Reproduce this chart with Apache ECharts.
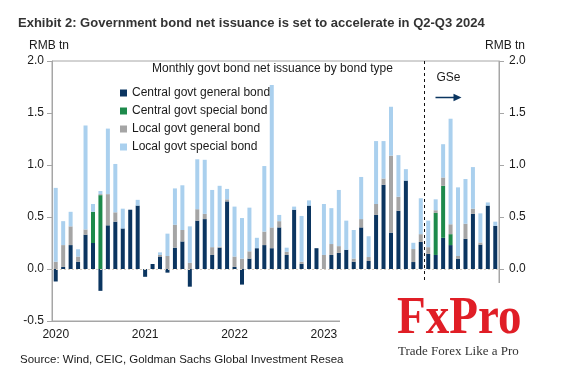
<!DOCTYPE html>
<html><head><meta charset="utf-8">
<script src="https://cdn.jsdelivr.net/npm/echarts/dist/echarts.min.js"></script>
<style>html,body{margin:0;padding:0;background:#fff}#c{width:571px;height:377px}</style>
</head><body><div id="c"></div>
<script>
const categories = ['Jan-20','Feb-20','Mar-20','Apr-20','May-20','Jun-20','Jul-20','Aug-20','Sep-20','Oct-20','Nov-20','Dec-20',
'Jan-21','Feb-21','Mar-21','Apr-21','May-21','Jun-21','Jul-21','Aug-21','Sep-21','Oct-21','Nov-21','Dec-21',
'Jan-22','Feb-22','Mar-22','Apr-22','May-22','Jun-22','Jul-22','Aug-22','Sep-22','Oct-22','Nov-22','Dec-22',
'Jan-23','Feb-23','Mar-23','Apr-23','May-23','Jun-23','Jul-23','Aug-23','Sep-23','Oct-23','Nov-23','Dec-23',
'Jan-24','Feb-24','Mar-24','Apr-24','May-24','Jun-24','Jul-24','Aug-24','Sep-24','Oct-24','Nov-24','Dec-24'];
const yearLabels = ['2020','2021','2022','2023','2024'];
const seriesNames = ['Central govt general bond','Central govt special bond','Local govt general bond','Local govt special bond'];
const centralGeneral = [-0.12,0.02,0.23,0.07,0.33,0.25,-0.21,0.42,0.455,0.39,0.57,0.61,
-0.075,0.048,0.12,-0.035,0.205,0.265,-0.17,0.465,0.48,0.135,0.205,0.65,
0.02,-0.15,0.10,0.20,0.23,0.20,0.40,0.135,0.57,0.05,0.61,0.20,
0,0.135,0.155,0.185,0.07,0.40,0.077,0.52,0.81,0.35,0.56,0.85,
0.067,0.26,0.145,0.135,0.30,0.23,0.10,0.29,0.53,0.235,0.61,0.415];
const centralSpecial = [0,0,0,0,0,0.30,0.71,0,0,0,0,0,
0,0,0,0,0,0,0,0,0,0,0,0,
0,0,0,0,0,0,0,0,0,0,0,0,
0,0,0,0,0,0,0,0,0,0,0,0,
0,0,0,0.405,0.50,0.105,0,0,0,0,0,0];
const localGeneral = [0.07,0.21,0.18,0.05,0.05,0,0.01,0.30,0.09,0,0,0,
0,0,0.015,0.125,0.22,0.11,0.06,0.11,0.05,0.075,0.01,0.02,
0.10,0.10,0.07,0,0.13,0.20,0.06,0.03,0,0.02,0,0,
0.135,0.105,0.065,0,0.03,0.08,0.038,0.105,0.06,0.74,0.135,0,
0.125,0.075,0.065,0.025,0.08,0.095,0.025,0.145,0.05,0.02,0,0];
const localSpecial = [0.71,0.23,0.14,0.07,1.00,0.075,0.03,0.63,0.465,0.19,0,0.055,
0,0,0.025,0.215,0.35,0.43,0.35,0.48,0.52,0.55,0.585,0.10,
0.48,0.39,0.42,0.10,0.63,1.37,0.06,0.04,0.03,0.44,0.05,0,
0.49,0.345,0.54,0.28,0.275,0.405,0.20,0.605,0.36,0.47,0.40,0.11,
0.06,0.345,0.255,0.105,0.32,1.015,0.66,0.43,0.40,0.28,0.03,0.04];
const forecastStart = 'Mar-24';
const colors = ['#0b3560','#1d8a4b','#a5a5a5','#aad0ee'];
const FONT = "'Liberation Sans', Arial, sans-serif";
const SERIF = "'Liberation Serif', 'Times New Roman', serif";

const chart = echarts.init(document.getElementById('c'), null, {renderer:'canvas'});
const yAxisCommon = {
  type:'value', min:-0.5, max:2.0, interval:0.5,
  axisLine:{show:true, lineStyle:{color:'#a6a6a6', width:1}},
  axisTick:{show:true, length:5, lineStyle:{color:'#a6a6a6'}},
  splitLine:{show:false},
  axisLabel:{color:'#1a1a1a', fontSize:12, fontFamily:FONT, formatter:v=>v.toFixed(1)}
};
const allData = [centralGeneral, centralSpecial, localGeneral, localSpecial];
const series = allData.map((d,i)=>({
  name:seriesNames[i], type:'bar', stack:'total', barWidth:4, data:d,
  itemStyle:{color:colors[i]}, emphasis:{disabled:true},
  markLine: i===0 ? {silent:true, symbol:'none', label:{show:false},
    lineStyle:{color:'#d6cfc4', type:[2,2], width:1}, data:[{yAxis:0}]} : undefined
}));
chart.setOption({
  animation:false,
  grid:{left:52, right:72, top:61, bottom:56, show:true, borderColor:'#a6a6a6', borderWidth:1, outerBoundsMode:'none'},
  legend:{
    orient:'vertical', left:115, top:82, itemWidth:7, itemHeight:7, itemGap:6,
    icon:'rect', textStyle:{fontSize:12, fontFamily:FONT, color:'#1a1a1a'},
    data:seriesNames, selectedMode:false
  },
  xAxis:{
    type:'category', data:categories,
    axisLine:{onZero:false, lineStyle:{color:'#a6a6a6'}},
    axisTick:{length:4, interval:(i)=>i%12===0, lineStyle:{color:'#a6a6a6'}},
    axisLabel:{margin:8, fontSize:12, fontFamily:FONT, color:'#1a1a1a',
      interval:(i)=>i%12===0 && i<48,
      formatter:(v,i)=>yearLabels[Math.floor(i/12)]}
  },
  yAxis:[Object.assign({position:'left'}, yAxisCommon, {axisLabel:Object.assign({}, yAxisCommon.axisLabel, {margin:8})}),
         Object.assign({position:'right'}, yAxisCommon, {axisLabel:Object.assign({}, yAxisCommon.axisLabel, {margin:10})})],
  series:series
});

const idx = categories.indexOf(forecastStart);
const xa = chart.convertToPixel({xAxisIndex:0}, idx-1);
const xb = chart.convertToPixel({xAxisIndex:0}, idx);
const xd = (xa+xb)/2;
const yTop = chart.convertToPixel({yAxisIndex:0}, 2.0);
const yBot = chart.convertToPixel({yAxisIndex:0}, -0.5);
function txt(x,y,text,opt){
  return Object.assign({type:'text', x:x, y:y, silent:true, z:120,
    style:Object.assign({text:text, fill:'#1a1a1a', font:'12px '+FONT, textAlign:'left', align:'left', textVerticalAlign:'middle', verticalAlign:'middle'}, opt||{})});
}
chart.setOption({graphic:[
  {type:'line', silent:true, z:50, shape:{x1:xd, y1:yTop, x2:xd, y2:yBot}, style:{stroke:'#111', lineWidth:1, lineDash:[3,3]}},
  txt(xd+12, 77.5, 'GSe'),
  {type:'line', silent:true, z:50, shape:{x1:xd+11, y1:97.5, x2:xd+30, y2:97.5}, style:{stroke:'#0b3560', lineWidth:1.5}},
  {type:'polygon', silent:true, z:50, shape:{points:[[xd+29,93.8],[xd+37,97.5],[xd+29,101.2]]}, style:{fill:'#0b3560'}},
  txt(18, 23, 'Exhibit 2: Government bond net issuance is set to accelerate in Q2-Q3 2024', {font:'bold 13px '+FONT, fill:'#333'}),
  txt(29, 45.5, 'RMB tn'),
  txt(525, 45.5, 'RMB tn', {textAlign:'right', align:'right'}),
  txt(152, 68.5, 'Monthly govt bond net issuance by bond type'),
  txt(20, 360, 'Source: Wind, CEIC, Goldman Sachs Global Investment Resea', {font:'11.5px '+FONT}),
  {type:'rect', silent:true, z:100, shape:{x:340, y:283, width:231, height:94}, style:{fill:'#ffffff'}},
  {type:'text', silent:true, z:120, x:397, y:319, scaleY:1.12,
    style:{text:'FxPro', fill:'#e01e26', font:'bold 47px '+SERIF, textAlign:'left', align:'left', textVerticalAlign:'middle', verticalAlign:'middle'}},
  txt(398, 352, 'Trade Forex Like a Pro', {font:'13px '+SERIF, fill:'#333'})
]});
</script>
</body></html>
